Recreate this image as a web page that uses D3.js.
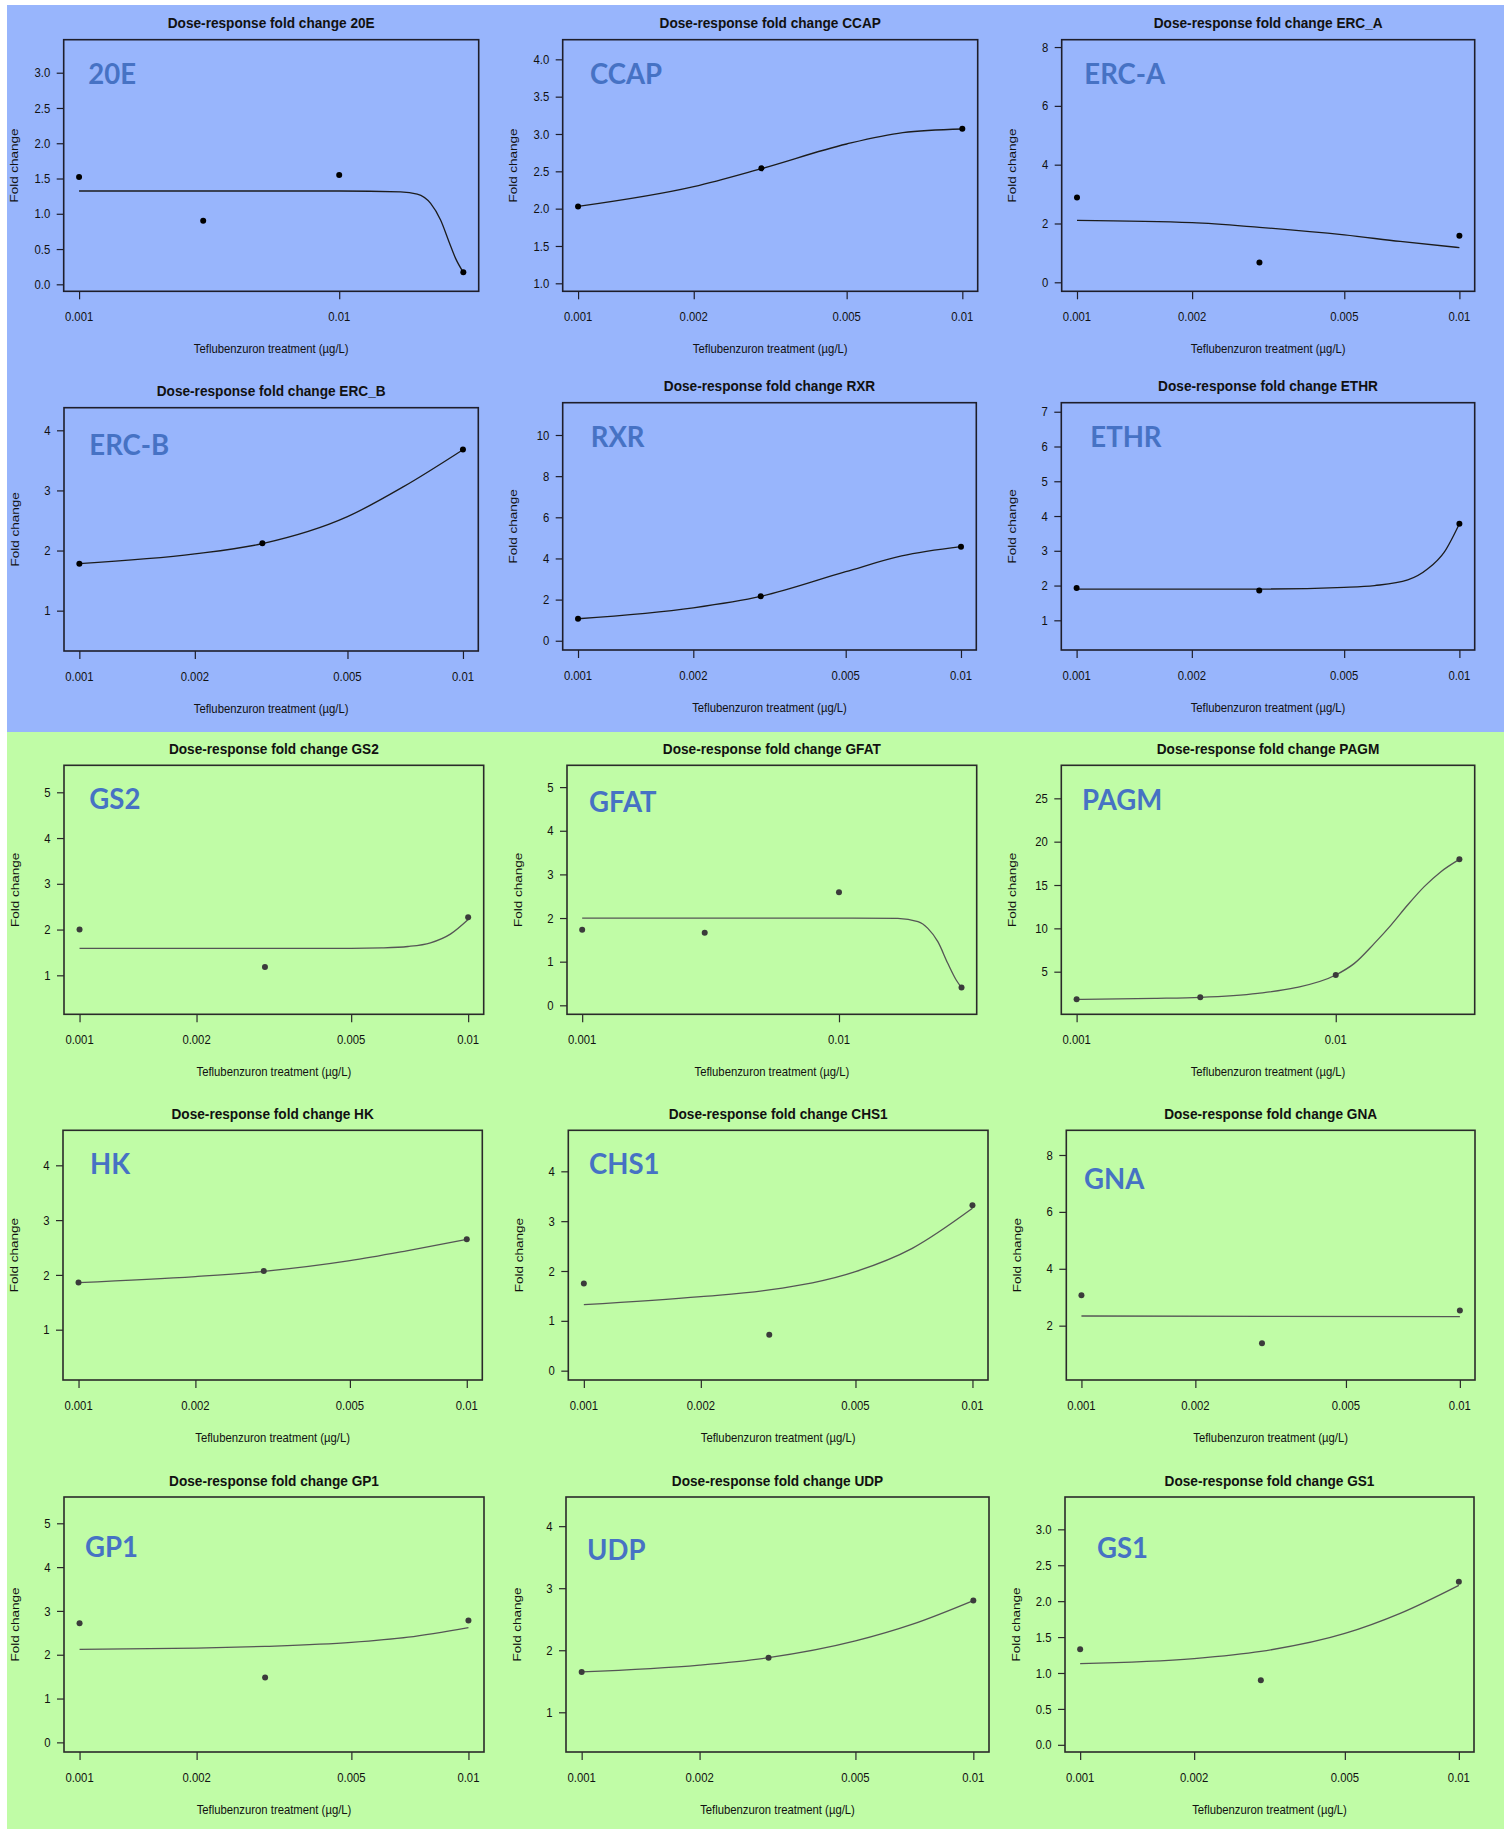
<!DOCTYPE html>
<html>
<head>
<meta charset="utf-8">
<script src="https://cdn.jsdelivr.net/npm/d3@7"></script>
<style>
  body { margin: 0; background: #ffffff; }
  svg { display: block; }
</style>
</head>
<body>
<svg id="chart" width="1512" height="1829"></svg>
<script>
// ---- Data -------------------------------------------------------------
const geneIds    = ["20E", "CCAP", "ERC_A", "ERC_B", "RXR", "ETHR",
                    "GS2", "GFAT", "PAGM", "HK", "CHS1", "GNA",
                    "GP1", "UDP", "GS1"];
const geneLabels = ["20E", "CCAP", "ERC-A", "ERC-B", "RXR", "ETHR",
                    "GS2", "GFAT", "PAGM", "HK", "CHS1", "GNA",
                    "GP1", "UDP", "GS1"];
// 0 = ecdysteroid pathway (blue block), 1 = chitin pathway (green block)
const geneGroup  = [0, 0, 0, 0, 0, 0, 1, 1, 1, 1, 1, 1, 1, 1, 1];

// Teflubenzuron doses (µg/L) and measured fold changes
const measuredDoses = [
  [0.001, 0.003, 0.01, 0.03],
  [0.001, 0.003, 0.01],
  [0.001, 0.003, 0.01],
  [0.001, 0.003, 0.01],
  [0.001, 0.003, 0.01],
  [0.001, 0.003, 0.01],
  [0.001, 0.003, 0.01],
  [0.001, 0.003, 0.01, 0.03],
  [0.001, 0.003, 0.01, 0.03],
  [0.001, 0.003, 0.01],
  [0.001, 0.003, 0.01],
  [0.001, 0.003, 0.01],
  [0.001, 0.003, 0.01],
  [0.001, 0.003, 0.01],
  [0.001, 0.003, 0.01]
];
const foldChanges = [
  [1.52, 0.90, 1.55, 0.17],
  [2.03, 2.54, 3.07],
  [2.88, 0.67, 1.58],
  [1.78, 2.12, 3.68],
  [1.07, 2.16, 4.57],
  [1.93, 1.86, 3.78],
  [2.00, 1.18, 2.27],
  [1.73, 1.66, 2.59, 0.41],
  [1.81, 2.04, 4.62, 17.96],
  [1.86, 2.07, 2.65],
  [1.75, 0.72, 3.32],
  [3.07, 1.38, 2.53],
  [2.72, 1.48, 2.78],
  [1.65, 1.88, 2.80],
  [1.33, 0.90, 2.27]
];

// Fitted dose-response curves, sampled along the dose axis
const fitDoses = [
  [0.001, 0.01, 0.0172, 0.01995, 0.02246, 0.02453, 0.02642, 0.02801, 0.03],
  [0.001, 0.002, 0.003, 0.005, 0.007, 0.01],
  [0.001, 0.002, 0.003, 0.005, 0.007, 0.01],
  [0.001, 0.002, 0.003, 0.005, 0.007, 0.01],
  [0.001, 0.002, 0.003, 0.005, 0.007, 0.01],
  [0.001, 0.003, 0.005, 0.006, 0.00733, 0.00827, 0.00914, 0.01],
  [0.001, 0.005, 0.006, 0.007, 0.008, 0.009, 0.01],
  [0.001, 0.01, 0.01694, 0.0203, 0.02218, 0.02426, 0.02652, 0.0286, 0.03],
  [0.001, 0.002, 0.003, 0.005, 0.007, 0.01, 0.0118, 0.01409, 0.01634, 0.01894, 0.02195, 0.02546, 0.03],
  [0.001, 0.002, 0.003, 0.005, 0.007, 0.01],
  [0.001, 0.002, 0.003, 0.005, 0.007, 0.01],
  [0.001, 0.01],
  [0.001, 0.002, 0.003, 0.005, 0.007, 0.01],
  [0.001, 0.002, 0.003, 0.005, 0.007, 0.01],
  [0.001, 0.002, 0.003, 0.005, 0.007, 0.01]
];
const fitValues = [
  [1.323, 1.323, 1.31, 1.28, 1.148, 0.912, 0.605, 0.368, 0.17],
  [2.03, 2.295, 2.536, 2.866, 3.018, 3.067],
  [2.108, 2.03, 1.87, 1.61, 1.39, 1.18],
  [1.782, 1.943, 2.115, 2.564, 3.063, 3.678],
  [1.07, 1.60, 2.156, 3.355, 4.12, 4.57],
  [1.90, 1.90, 1.95, 2.00, 2.16, 2.48, 2.97, 3.78],
  [1.59, 1.59, 1.60, 1.63, 1.71, 1.90, 2.22],
  [2.0, 2.0, 1.99, 1.916, 1.763, 1.458, 0.962, 0.58, 0.405],
  [1.81, 1.92, 2.04, 2.5, 3.15, 4.62, 5.96, 8.27, 10.38, 12.69, 14.81, 16.54, 17.96],
  [1.86, 1.97, 2.065, 2.26, 2.44, 2.649],
  [1.324, 1.485, 1.62, 1.987, 2.455, 3.258],
  [2.34, 2.32],
  [2.12, 2.15, 2.19, 2.28, 2.40, 2.62],
  [1.65, 1.76, 1.88, 2.15, 2.42, 2.80],
  [1.13, 1.20, 1.30, 1.55, 1.83, 2.22]
];

// Axis ticks and plotted y range (bottom, top of the frame)
const xTickValues = [
  [0.001, 0.01],
  [0.001, 0.002, 0.005, 0.01],
  [0.001, 0.002, 0.005, 0.01],
  [0.001, 0.002, 0.005, 0.01],
  [0.001, 0.002, 0.005, 0.01],
  [0.001, 0.002, 0.005, 0.01],
  [0.001, 0.002, 0.005, 0.01],
  [0.001, 0.01],
  [0.001, 0.01],
  [0.001, 0.002, 0.005, 0.01],
  [0.001, 0.002, 0.005, 0.01],
  [0.001, 0.002, 0.005, 0.01],
  [0.001, 0.002, 0.005, 0.01],
  [0.001, 0.002, 0.005, 0.01],
  [0.001, 0.002, 0.005, 0.01]
];
const yTickValues = [
  [0, 0.5, 1, 1.5, 2, 2.5, 3],
  [1, 1.5, 2, 2.5, 3, 3.5, 4],
  [0, 2, 4, 6, 8],
  [1, 2, 3, 4],
  [0, 2, 4, 6, 8, 10],
  [1, 2, 3, 4, 5, 6, 7],
  [1, 2, 3, 4, 5],
  [0, 1, 2, 3, 4, 5],
  [5, 10, 15, 20, 25],
  [1, 2, 3, 4],
  [0, 1, 2, 3, 4],
  [2, 4, 6, 8],
  [0, 1, 2, 3, 4, 5],
  [1, 2, 3, 4],
  [0, 0.5, 1, 1.5, 2, 2.5, 3]
];
const yLimits = [
  [-0.099, 3.468],
  [0.893, 4.263],
  [-0.306, 8.25],
  [0.329, 4.376],
  [-0.45, 11.57],
  [0.146, 7.26],
  [0.148, 5.59],
  [-0.206, 5.50],
  [0.085, 28.81],
  [0.082, 4.639],
  [-0.187, 4.823],
  [0.09, 8.868],
  [-0.22, 5.60],
  [0.36, 4.47],
  [-0.10, 3.45]
];

const titlePrefix = "Dose-response fold change ";
const xAxisTitle = "Teflubenzuron treatment (µg/L)";
const yAxisTitle = "Fold change";

// ---- Layout -----------------------------------------------------------
// plotting frame of each panel: [left, top, right, bottom]
const frames = [
  [63.7, 39.7, 478.7, 291.3], [562.7, 39.7, 977.7, 291.3], [1061.7, 39.7, 1474.7, 291.3],
  [64, 407.7, 478.3, 651],    [562.7, 402.7, 976.3, 650], [1061.3, 402.7, 1474.7, 650],
  [64, 765.3, 483.7, 1014.3], [567, 765.3, 976.7, 1014.3], [1061.3, 765.3, 1474.7, 1014.3],
  [63, 1130.3, 482.3, 1380],  [568.3, 1130.3, 988, 1380], [1066.3, 1130.3, 1475, 1380],
  [64, 1497, 484, 1752],      [566, 1497, 989, 1752],     [1065, 1497, 1474, 1752]
];
// gene tag position inside the frame: [from left, baseline from top]
const tagOffsets = [
  [24.6, 44.6], [27.3, 44.6], [22.6, 44.6],
  [25.3, 47.3], [28, 44], [29, 44],
  [25.3, 44], [22, 46.4], [20.7, 44.7],
  [27, 44], [20.7, 44], [17.7, 59],
  [21, 60], [21, 63], [32, 60.5]
];

const groupFill   = ["#98b5fc", "#c0fca6"];
const groupRects  = [[7, 5, 1504, 732], [7, 732, 1504, 1829]];
const pointColor  = ["#000000", "#3b3b3b"];
const curveColor  = ["#1c1c1c", "#555555"];
const frameColor  = ["#1e1e2a", "#2a2a2a"];
const tagColor    = "#4672c4";
const squeeze     = 0.87;   // horizontal compression of the R text

// ---- Drawing ----------------------------------------------------------
const svg = d3.select("#chart");

svg.selectAll("rect.block")
  .data(groupRects)
  .join("rect")
  .attr("class", "block")
  .attr("x", d => d[0]).attr("y", d => d[1])
  .attr("width", d => d[2] - d[0]).attr("height", d => d[3] - d[1])
  .attr("fill", (d, i) => groupFill[i]);

function addText(g, x, y, str, o) {
  const t = g.append("text")
    .attr("transform", `translate(${x},${y}) scale(${o.sx ?? squeeze},1)` + (o.rotate ? " rotate(-90)" : ""))
    .attr("text-anchor", o.anchor || "middle")
    .attr("font-family", o.family || "'Liberation Sans', Arial, Helvetica, sans-serif")
    .attr("font-size", o.size || 13)
    .attr("font-weight", o.weight || "normal")
    .attr("fill", o.fill || "#111")
    .text(str);
  return t;
}

geneIds.forEach((gene, i) => {
  const [L, T, R, B] = frames[i];
  const grp = geneGroup[i];
  const g = svg.append("g").attr("class", "panel panel-" + gene);

  // x: log dose, padded 4% of the dose span on each side
  const lx = measuredDoses[i].map(Math.log10);
  const lo = d3.min(lx), hi = d3.max(lx), pad = 0.04 * (hi - lo);
  const x = d3.scaleLog().domain([10 ** (lo - pad), 10 ** (hi + pad)]).range([L, R]);
  const y = d3.scaleLinear().domain(yLimits[i]).range([B, T]);

  // y axis
  const fmt = yTickValues[i].some(v => !Number.isInteger(v)) ? d3.format(".1f") : d3.format("d");
  const yAxis = g.append("g")
    .attr("transform", `translate(${L},0)`)
    .call(d3.axisLeft(y).tickValues(yTickValues[i]).tickSize(7).tickFormat(fmt));
  yAxis.select(".domain").remove();
  yAxis.selectAll(".tick line").attr("stroke", frameColor[grp]).attr("stroke-width", 1.2);
  yAxis.selectAll(".tick text").remove();
  yTickValues[i].forEach(v => {
    addText(g, L - 13.5, y(v) + 4.6, fmt(v), { anchor: "end", size: 13 });
  });

  // x axis
  const xAxis = g.append("g")
    .attr("transform", `translate(0,${B})`)
    .call(d3.axisBottom(x).tickValues(xTickValues[i]).tickSize(8).tickFormat(""));
  xAxis.select(".domain").remove();
  xAxis.selectAll(".tick line").attr("stroke", frameColor[grp]).attr("stroke-width", 1.2);
  xTickValues[i].forEach(v => {
    addText(g, x(v), B + 29.5, String(v), { size: 13 });
  });

  // fitted curve
  const line = d3.line()
    .x(d => x(d[0]))
    .y(d => y(d[1]))
    .curve(d3.curveMonotoneX);
  g.append("path")
    .datum(d3.zip(fitDoses[i], fitValues[i]))
    .attr("d", line)
    .attr("fill", "none")
    .attr("stroke", curveColor[grp])
    .attr("stroke-width", 1.3);

  // measured points
  g.selectAll("circle.obs")
    .data(d3.zip(measuredDoses[i], foldChanges[i]))
    .join("circle")
    .attr("class", "obs")
    .attr("cx", d => x(d[0]))
    .attr("cy", d => y(d[1]))
    .attr("r", 3)
    .attr("fill", pointColor[grp]);

  // frame
  g.append("rect")
    .attr("x", L).attr("y", T)
    .attr("width", R - L).attr("height", B - T)
    .attr("fill", "none")
    .attr("stroke", frameColor[grp])
    .attr("stroke-width", 1.6);

  // titles
  addText(g, (L + R) / 2, T - 11.3, titlePrefix + gene, { size: 15, weight: "bold", sx: 0.91 });
  addText(g, (L + R) / 2, B + 62, xAxisTitle, { size: 13 });
  addText(g, L - 45.5, (T + B) / 2, yAxisTitle, { size: 13.5, rotate: true });

  // gene tag
  addText(g, L + tagOffsets[i][0], T + tagOffsets[i][1], geneLabels[i], {
    anchor: "start", size: 29, weight: "bold", sx: 0.95,
    family: "Lato, 'Open Sans', sans-serif", fill: tagColor
  });
});
</script>
</body>
</html>
